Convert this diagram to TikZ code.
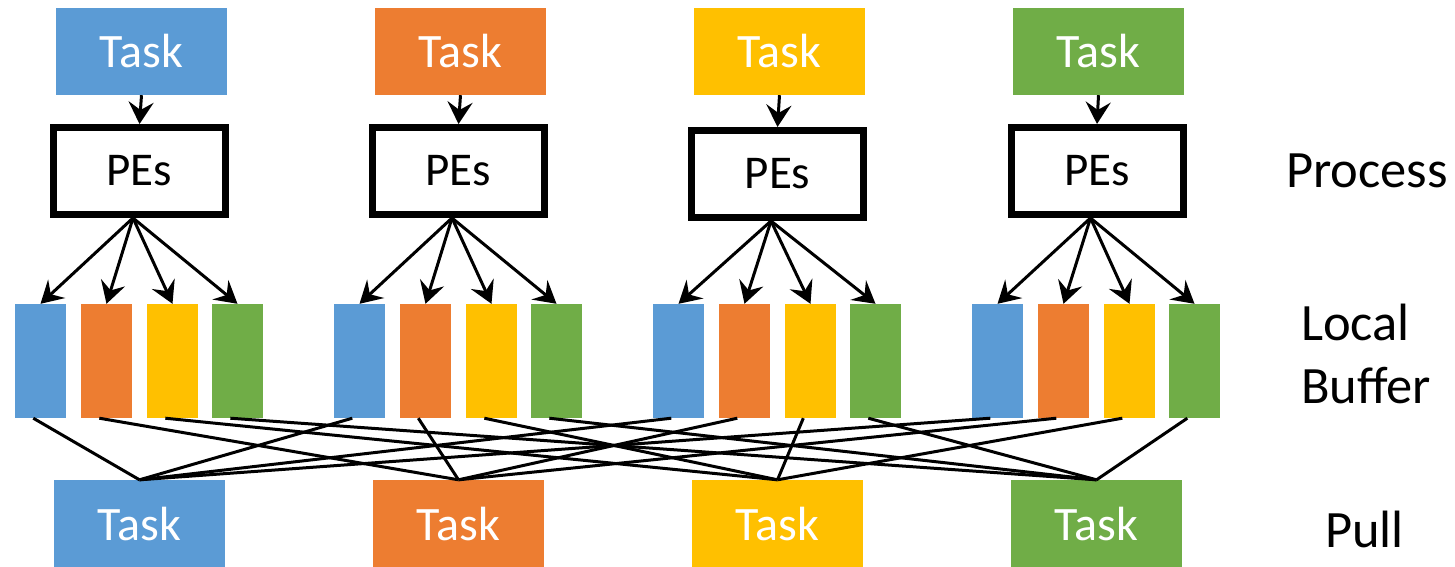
\documentclass[tikz,border=0pt]{standalone}
\usepackage{fontspec}
\setmainfont{Carlito}
\usetikzlibrary{arrows.meta,calc}

\definecolor{cblue}{HTML}{5B9BD5}
\definecolor{corange}{HTML}{ED7D31}
\definecolor{cyellow}{HTML}{FFC000}
\definecolor{cgreen}{HTML}{70AD47}

\tikzset{
  taskbox/.style={rectangle, inner sep=0pt, minimum width=171pt, minimum height=87pt,
    text=white, font=\fontsize{48}{56}\selectfont},
  pebox/.style={rectangle, draw=black, fill=white, line width=7pt, inner sep=0pt,
    minimum width=172pt, minimum height=87pt, font=\fontsize{47}{55}\selectfont},
  bufbox/.style={rectangle, inner sep=0pt, minimum width=51pt, minimum height=114pt},
  feed/.style={line width=3pt, -{Stealth[length=22pt,width=25pt,inset=8pt]}},
  link/.style={line width=3pt},
  rowlabel/.style={inner sep=0pt, anchor=base west, font=\fontsize{52.5}{62}\selectfont}
}

\begin{document}
\begin{tikzpicture}[x=1pt, y=-1pt]
  \useasboundingbox (0,0) rectangle (1455,566);

  % four lanes: top task, processing elements, bottom (pulled) task
  \foreach \i/\c/\tx/\px/\py/\bx in {1/cblue/141.5/139.5/171/139.5,
                                      2/corange/460.5/458.5/171/458.5,
                                      3/cyellow/779.5/777.5/174/777.5,
                                      4/cgreen/1098.5/1097/171/1096.5} {
    \node[taskbox, fill=\c] (t\i) at (\tx,51.5) {Task};
    \node[pebox] (pe\i) at (\px,\py) {PEs};
    \node[taskbox, fill=\c] (p\i) at (\bx,523.5) {Task};
    \coordinate (o\i) at ([xshift=-6.5pt]pe\i.south);
    \draw[feed] (t\i.south) -- (pe\i.north);
  }

  % local buffers: one per colour in each lane
  \foreach \g/\gx in {1/40.5, 2/359.5, 3/678.5, 4/997.5} {
    \foreach \k/\c/\dx in {1/cblue/0, 2/corange/66, 3/cyellow/132, 4/cgreen/197} {
      \node[bufbox, fill=\c] (b\g\k) at (\gx+\dx,361) {};
      \coordinate (bo\g\k) at ($(b\g\k.south west)!0.36!(b\g\k.south east)$);
      \draw[feed] (o\g) -- (b\g\k.north);
    }
  }

  % each buffer feeds the pulled task of its colour
  \foreach \g in {1,2,3,4} {
    \foreach \k in {1,2,3,4} {
      \draw[link] (bo\g\k) -- (p\k.north);
    }
  }

  % row labels
  \node[rowlabel] (lproc) at (1286,187) {Process};
  \node[rowlabel] (lloc) at (1301,340) {Local};
  \node[rowlabel] (lbuf) at (1301,403) {Buffer};
  \node[rowlabel] (lpull) at (1325,547) {Pull};
\end{tikzpicture}
\end{document}
